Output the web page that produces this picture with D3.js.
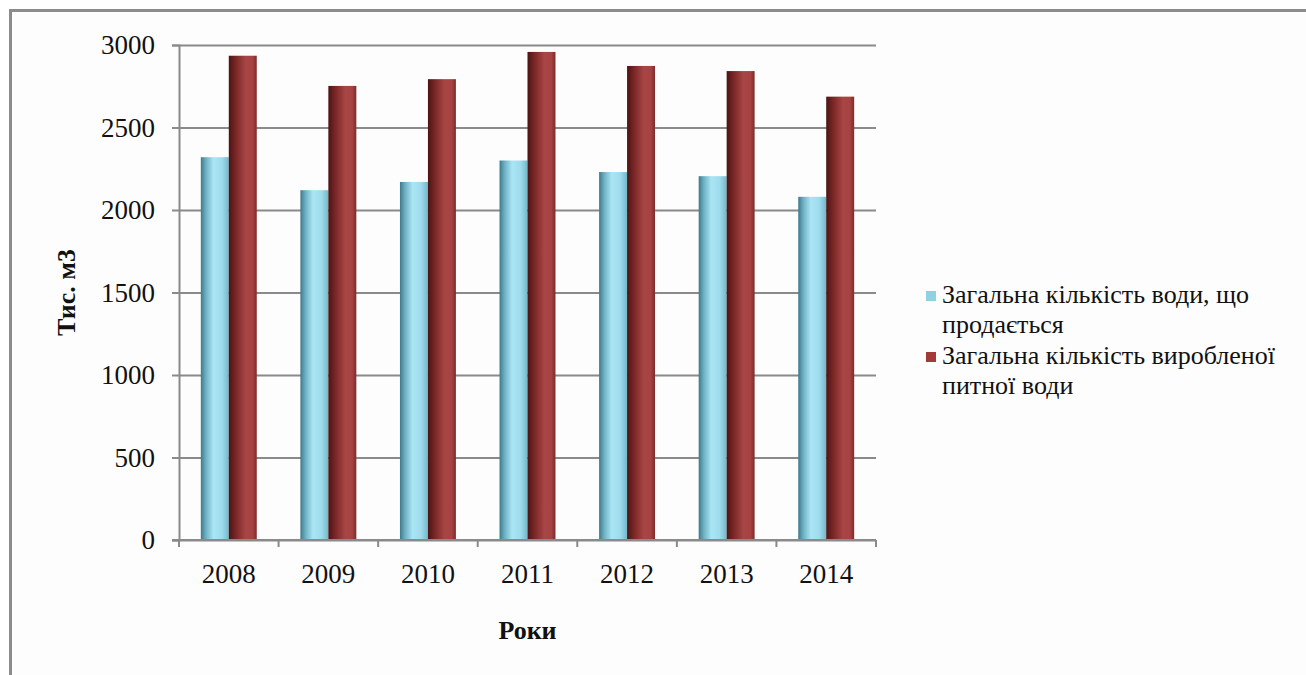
<!DOCTYPE html>
<html>
<head>
<meta charset="utf-8">
<script src="https://cdn.jsdelivr.net/npm/d3@7"></script>
<style>
  body { margin: 0; background: #fff; }
</style>
</head>
<body>
<div id="chart"></div>
<script>
const years = ["2008", "2009", "2010", "2011", "2012", "2013", "2014"];
const soldWater = [2320, 2120, 2170, 2300, 2230, 2205, 2080];
const producedWater = [2935, 2752, 2793, 2958, 2873, 2842, 2687];
const yTicks = [0, 500, 1000, 1500, 2000, 2500, 3000];
const legendLines = [["Загальна кількість води, що", "продається"], ["Загальна кількість виробленої", "питної води"]];

const serif = "'Liberation Serif', 'Times New Roman', serif";

let width = 1306,
    height = 675,
    margin = ({ top: 45, right: 430, bottom: 135, left: 179 });

const svg = d3.select("#chart")
    .append("svg")
    .attr("width", width)
    .attr("height", height);

// outer frame (right and bottom edges fall outside the picture)
svg.append("rect")
    .attr("x", 10.5).attr("y", 10.5)
    .attr("width", width + 20).attr("height", height + 20)
    .attr("fill", "#fdfdfd")
    .attr("stroke", "#8c8c8c")
    .attr("stroke-width", 3);

const defs = svg.append("defs");
const gradStops = [
    [["0%", "#3d7a8a"], ["18%", "#6db0c3"], ["45%", "#a9e5f5"], ["75%", "#9edced"], ["100%", "#74b7ca"]],
    [["0%", "#4a1414"], ["22%", "#762424"], ["60%", "#a84545"], ["85%", "#a64242"], ["100%", "#7e2b2b"]]
];
gradStops.forEach((stops, i) => {
    const g = defs.append("linearGradient").attr("id", "grad" + i)
        .attr("x1", "0%").attr("x2", "100%").attr("y1", "0%").attr("y2", "0%");
    stops.forEach(s => g.append("stop").attr("offset", s[0]).attr("stop-color", s[1]));
});

let x0 = d3.scaleBand()
    .domain(years)
    .range([margin.left, width - margin.right])
    .paddingInner(0).paddingOuter(0);

let x1 = d3.scaleBand()
    .domain([0, 1])
    .range([0, x0.bandwidth()])
    .paddingInner(0).paddingOuter(0.78);

let y = d3.scaleLinear()
    .domain([0, 3000])
    .range([height - margin.bottom, margin.top]);

// gridlines + y axis
svg.append("g")
    .attr("transform", `translate(${margin.left},0)`)
    .attr("class", "y-axis")
    .call(d3.axisLeft(y).tickValues(yTicks).tickFormat(d3.format("d")).tickSize(7).tickPadding(17))
    .call(g => g.select(".domain").attr("stroke", "#8a8a8a").attr("stroke-width", 2))
    .call(g => g.selectAll(".tick line").attr("stroke", "#8a8a8a").attr("stroke-width", 2))
    .call(g => g.selectAll(".tick").append("line")
        .attr("x1", 0).attr("x2", x0.range()[1] - margin.left)
        .attr("stroke", "#8a8a8a").attr("stroke-width", 2))
    .call(g => g.selectAll(".tick text").attr("font-size", 27).style("font-family", serif).attr("fill", "#111"));

// bars
const data = [soldWater, producedWater];
years.forEach((yr, i) => {
    [0, 1].forEach(s => {
        svg.append("rect")
            .attr("x", x0(yr) + x1(s))
            .attr("y", y(data[s][i]))
            .attr("width", x1.bandwidth())
            .attr("height", y(0) - y(data[s][i]))
            .attr("fill", `url(#grad${s})`);
    });
});

// x axis
svg.append("g")
    .attr("transform", `translate(0,${height - margin.bottom})`)
    .attr("class", "x-axis")
    .call(d3.axisBottom(x0).tickSize(0).tickPadding(24))
    .call(g => g.select(".domain").remove())
    .call(g => g.selectAll(".tick text").attr("font-size", 27).style("font-family", serif).attr("fill", "#111"));

const xAxisLine = svg.append("g").attr("stroke", "#8a8a8a").attr("stroke-width", 2);
xAxisLine.append("line")
    .attr("x1", margin.left - 7).attr("x2", x0.range()[1])
    .attr("y1", y(0)).attr("y2", y(0));
years.concat(["end"]).forEach((yr, i) => {
    const xp = i < years.length ? x0(yr) : x0.range()[1];
    xAxisLine.append("line")
        .attr("x1", xp).attr("x2", xp)
        .attr("y1", y(0)).attr("y2", y(0) + 7);
});

// axis titles
svg.append("text")
    .attr("transform", `translate(75,${(y(0) + y(3000)) / 2}) rotate(-90)`)
    .attr("text-anchor", "middle")
    .attr("font-size", 26).attr("font-weight", "bold")
    .style("font-family", serif).attr("fill", "#111")
    .text("Тис. м3");

svg.append("text")
    .attr("x", (margin.left + x0.range()[1]) / 2)
    .attr("y", 639)
    .attr("text-anchor", "middle")
    .attr("font-size", 26).attr("font-weight", "bold")
    .style("font-family", serif).attr("fill", "#111")
    .text("Роки");

// legend
const legendColors = ["#8fd0e2", "#a23a3a"];
const legend = svg.append("g").attr("transform", "translate(926,291)");
legendLines.forEach((lines, i) => {
    const g = legend.append("g").attr("transform", `translate(0,${i * 61})`);
    g.append("rect").attr("width", 10).attr("height", 10).attr("fill", legendColors[i]);
    lines.forEach((ln, j) => {
        g.append("text")
            .attr("x", 16).attr("y", 12 + j * 30)
            .attr("font-size", 26)
            .style("font-family", serif).attr("fill", "#111")
            .text(ln);
    });
});
</script>
</body>
</html>
